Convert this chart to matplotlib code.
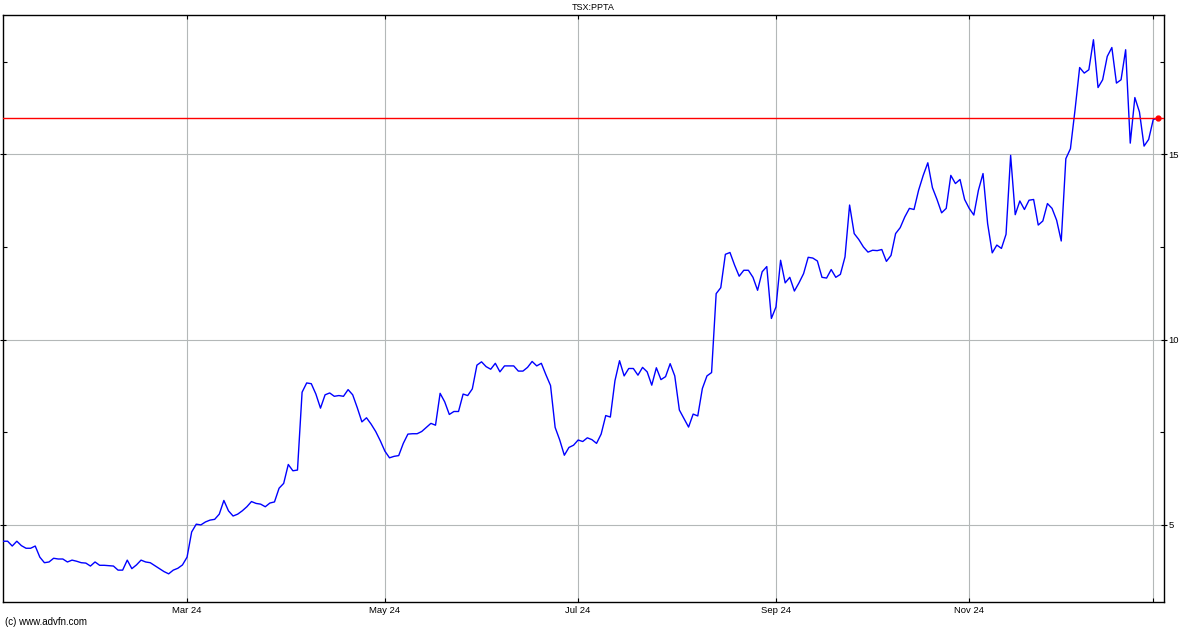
import numpy as np
import matplotlib
matplotlib.use("Agg")
import matplotlib.pyplot as plt
from matplotlib.ticker import FixedLocator, NullFormatter

plt.rcParams['font.family'] = ['Liberation Sans', 'DejaVu Sans']

title = "TSX:PPTA"
credit = "(c) www.advfn.com"

# Closing prices, grouped by two-month blocks starting at each labelled month
jan_feb = [4.56, 4.56, 4.43, 4.56, 4.44, 4.37, 4.37, 4.43, 4.13, 3.98,
           4.00, 4.10, 4.08, 4.08, 4.00, 4.05, 4.02, 3.98, 3.97, 3.89,
           4.00, 3.91, 3.91, 3.90, 3.89, 3.78, 3.78, 4.05, 3.82, 3.92,
           4.05, 4.00, 3.98, 3.90, 3.82, 3.74, 3.68, 3.78, 3.83, 3.92]
mar_apr = [4.13, 4.81, 5.02, 5.00, 5.08, 5.13, 5.15, 5.29, 5.66, 5.38,
           5.24, 5.29, 5.38, 5.49, 5.63, 5.58, 5.56, 5.49, 5.59, 5.62,
           5.99, 6.12, 6.63, 6.46, 6.48, 8.58, 8.83, 8.81, 8.53, 8.15,
           8.51, 8.56, 8.47, 8.49, 8.47, 8.65, 8.51, 8.16, 7.78, 7.89,
           7.72, 7.52, 7.27]
may_jun = [6.99, 6.81, 6.85, 6.87, 7.20, 7.45, 7.46, 7.46, 7.52, 7.63,
           7.74, 7.69, 8.55, 8.32, 7.98, 8.06, 8.06, 8.53, 8.49, 8.67,
           9.31, 9.40, 9.27, 9.20, 9.36, 9.13, 9.29, 9.29, 9.29, 9.15,
           9.15, 9.25, 9.41, 9.29, 9.36, 9.05, 8.76, 7.63, 7.29, 6.88,
           7.09, 7.15]
jul_aug = [7.29, 7.25, 7.35, 7.30, 7.20, 7.45, 7.95, 7.91, 8.89, 9.43,
           9.02, 9.22, 9.22, 9.04, 9.25, 9.13, 8.77, 9.24, 8.92, 9.00,
           9.35, 9.02, 8.10, 7.87, 7.64, 7.99, 7.94, 8.68, 9.02, 9.11,
           11.24, 11.40, 12.30, 12.35, 12.01, 11.71, 11.87, 11.87, 11.68, 11.33,
           11.83, 11.97, 10.57]
sep_oct = [10.88, 12.14, 11.53, 11.68, 11.31, 11.53, 11.78, 12.22, 12.20, 12.12,
           11.68, 11.66, 11.89, 11.68, 11.76, 12.23, 13.63, 12.86, 12.70, 12.50,
           12.36, 12.41, 12.40, 12.43, 12.11, 12.27, 12.86, 13.02, 13.31, 13.54,
           13.51, 14.03, 14.43, 14.77, 14.10, 13.78, 13.42, 13.54, 14.43, 14.21,
           14.32, 13.78]
nov_dec = [13.54, 13.36, 14.03, 14.48, 13.13, 12.34, 12.55, 12.46, 12.84, 14.97,
           13.37, 13.74, 13.51, 13.76, 13.78, 13.09, 13.20, 13.67, 13.54, 13.22,
           12.66, 14.88, 15.15, 16.20, 17.34, 17.19, 17.28, 18.09, 16.80, 17.01,
           17.64, 17.88, 16.92, 17.01, 17.82, 15.30, 16.53, 16.14, 15.22, 15.40]
jan_25 = [15.94, 15.97]

blocks = [jan_feb, mar_apr, may_jun, jul_aug, sep_oct, nov_dec, jan_25]
month_labels = ["Mar 24", "May 24", "Jul 24", "Sep 24", "Nov 24", ""]

prices = np.concatenate(blocks)
x = np.arange(len(prices))
starts = np.cumsum([len(b) for b in blocks])[:-1]

y_major = [5, 10, 15]
y_minor = [2.5, 7.5, 12.5, 17.5]

fig = plt.figure(figsize=(12, 6.3), dpi=100)
ax = fig.add_axes([0.00225, 0.04444, 0.968, 0.9325])

for s in starts:
    ax.axvline(s, color='#b4b8b8', lw=0.8, zorder=1)
for v in y_major:
    ax.axhline(v, color='#b4b8b8', lw=0.8, zorder=1)

ax.plot(x, prices, color='#0000ff', lw=1.0, zorder=3)
last = prices[-1]
ax.axhline(last, color='#ff0000', lw=1.0, zorder=4)
ax.plot([x[-1]], [last], 'o', color='#ff0000', ms=3.5, zorder=5)

ax.set_xlim(-0.07, len(prices) + 0.4)
ax.set_ylim(2.92, 18.77)

ax.set_xticks(starts)
ax.set_xticklabels(month_labels, fontsize=6.8)
ax.tick_params(axis='x', direction='in', length=3, width=0.8, pad=3,
               top=True, bottom=True, colors='black')

ax.yaxis.tick_right()
ax.yaxis.set_major_locator(FixedLocator(y_major))
ax.yaxis.set_minor_locator(FixedLocator(y_minor))
ax.yaxis.set_minor_formatter(NullFormatter())
ax.set_yticklabels([str(v) for v in y_major], fontsize=6.8)
ax.tick_params(axis='y', which='major', direction='inout', length=4, width=0.8,
               pad=1, left=True, right=True)
ax.tick_params(axis='y', which='minor', direction='in', length=3, width=0.8,
               left=True, right=True)

for sp in ax.spines.values():
    sp.set_color('black')
    sp.set_linewidth(1.0)

fig.text(593 / 1200, 1 - 8 / 630, title, ha='center', va='center', fontsize=6.5)
fig.text(5 / 1200, 1 - 622 / 630, credit, ha='left', va='center', fontsize=7)

fig.savefig("out.png", dpi=100)
